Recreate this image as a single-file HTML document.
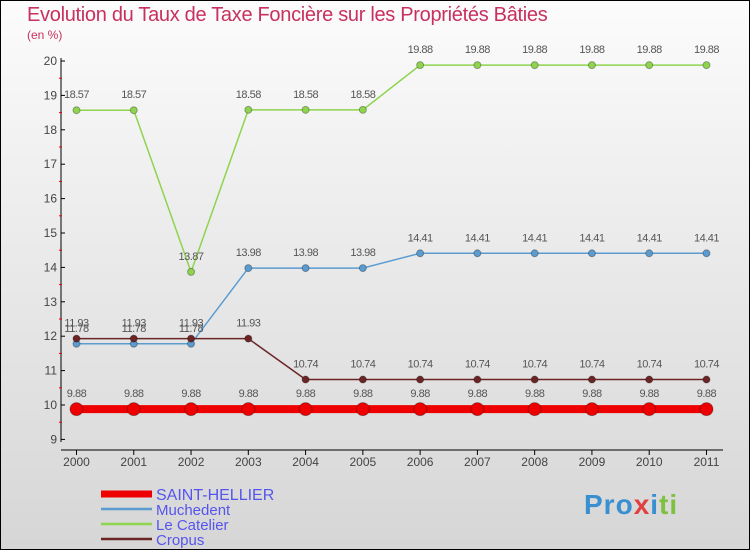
<!DOCTYPE html>
<html><head><meta charset="utf-8"><style>
body{margin:0}
#c{position:relative;width:748px;height:548px;border:1px solid #000;background:linear-gradient(#fcfcfc,#f0f0f0 30%,#d6d6d6);font-family:"Liberation Sans",sans-serif;overflow:hidden}
</style></head><body>
<div id="c">
<div style="position:absolute;left:26px;top:3px;font-size:20px;color:#c8305f;letter-spacing:-0.3px">Evolution du Taux de Taxe Foncière sur les Propriétés Bâties</div>
<div style="position:absolute;left:26px;top:27px;font-size:12px;color:#c8305f">(en %)</div>
<svg id="s" width="748" height="548" style="position:absolute;left:0;top:0"></svg>
<div style="position:absolute;left:583px;top:488px;font-size:28px;font-weight:bold;color:#f0a020;letter-spacing:1px"><span style="color:#3a8fd0">Pro</span><span style="color:#e04040">x</span><span style="color:#3a8fd0">i</span><span style="color:#80c040">ti</span></div>
</div>
<script>
const years=[2000,2001,2002,2003,2004,2005,2006,2007,2008,2009,2010,2011];
const yTicks=[9,10,11,12,13,14,15,16,17,18,19,20];
const names=["SAINT-HELLIER","Muchedent","Le Catelier","Cropus"];
const sh=[9.88,9.88,9.88,9.88,9.88,9.88,9.88,9.88,9.88,9.88,9.88,9.88];
const mu=[11.78,11.78,11.78,13.98,13.98,13.98,14.41,14.41,14.41,14.41,14.41,14.41];
const lc=[18.57,18.57,13.87,18.58,18.58,18.58,19.88,19.88,19.88,19.88,19.88,19.88];
const cr=[11.93,11.93,11.93,11.93,10.74,10.74,10.74,10.74,10.74,10.74,10.74,10.74];
const colors=["#ee0000","#5b9bd0","#8ed44e","#6b2525"];
const S=document.getElementById('s'),NS="http://www.w3.org/2000/svg";
const X=i=>75.5+i*57.27, Y=v=>404-(v-10)*34.4;
function mk(t,a,p){const e=document.createElementNS(NS,t);for(const k in a)e.setAttribute(k,a[k]);(p||S).appendChild(e);return e;}
let ax=mk('line',{x1:60,y1:57,x2:60,y2:441,stroke:'#000'});


let xa=mk('line',{x1:60,y1:449,x2:722,y2:449,stroke:'#000'});


yTicks.forEach(v=>{mk('line',{x1:60,y1:Y(v),x2:64,y2:Y(v),stroke:'#000'});
 if(v<20)mk('line',{x1:58,y1:Y(v+0.5),x2:61,y2:Y(v+0.5),stroke:'#e00'});
 const t=mk('text',{x:56,y:Y(v)+4,'text-anchor':'end','font-size':12,fill:'#444'});t.textContent=v;
 
 });
years.forEach((y,i)=>{mk('line',{x1:X(i),y1:449,x2:X(i),y2:454,stroke:'#000'});
 const t=mk('text',{x:X(i),y:465,'text-anchor':'middle','font-size':12,fill:'#444'});t.textContent=y;
 
 });
function series(d,c,w,r,nm){
 const g=mk('g',{});
 
 
 mk('polyline',{points:d.map((v,i)=>X(i)+','+Y(v)).join(' '),fill:'none',stroke:c,'stroke-width':w},g);
 d.forEach((v,i)=>{const p=mk('circle',{cx:X(i),cy:Y(v),r:r,fill:c,stroke:'rgba(0,0,0,0.3)','stroke-width':1},g);
  
  
  const t=mk('text',{x:X(i),y:Y(v)-12,'text-anchor':'middle','font-size':11,fill:'#555','letter-spacing':'-0.5'},g);t.textContent=v.toFixed(2).replace(/0$/,'').replace(/\.$/,'');
  
  });
}
series(lc,colors[2],1.5,3.5,'le-catelier');
series(mu,colors[1],1.5,3.5,'muchedent');
series(cr,colors[3],1.5,3.5,'cropus');
series(sh,colors[0],8,6.5,'saint-hellier');
names.forEach((n,i)=>{const y=[493,508,523,538][i];
 const g=mk('g',{});
 
 
 mk('line',{x1:100,y1:y,x2:151,y2:y,stroke:colors[i],'stroke-width':i==0?7:2.5},g);
 const t=mk('text',{x:155,y:y+6,'font-size':i==0?16:15,fill:'#5555ee'},g);t.textContent=n;});
</script>
</body></html>
